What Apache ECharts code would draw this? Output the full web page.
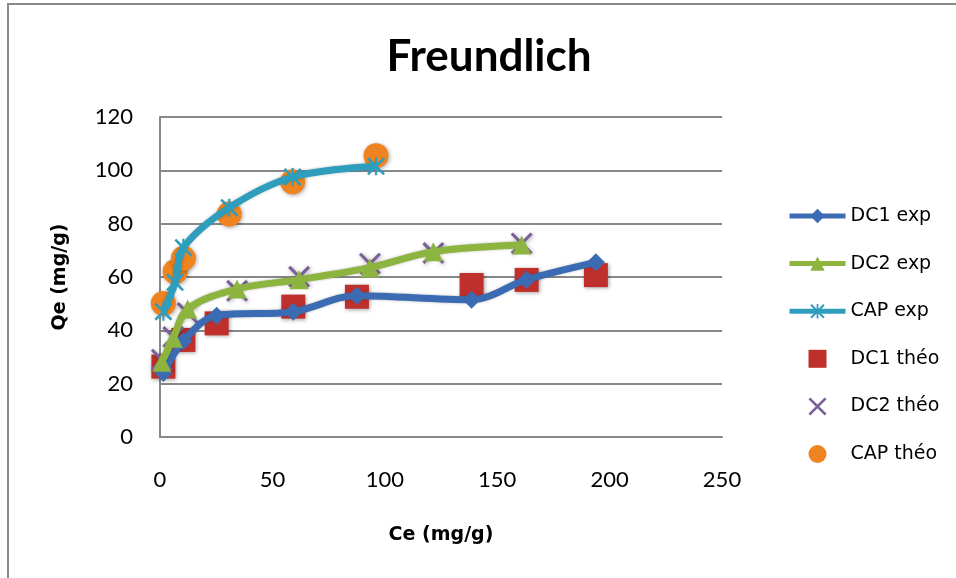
<!DOCTYPE html>
<html>
<head>
<meta charset="utf-8">
<script src="https://cdn.jsdelivr.net/npm/echarts@6/dist/echarts.min.js"></script>
<style>
  html, body { margin: 0; padding: 0; background: #fff; }
  #chart { width: 956px; height: 578px; }
</style>
</head>
<body>
<div id="chart"></div>
<script>
// Ce (mg/g) and Qe (mg/g) values for each adsorbent
const dc1Ce   = [1.5, 10.4, 25.2, 59.3, 87.6, 138.6, 163.1, 193.9];
const dc1Exp  = [24, 36, 45.5, 47, 53, 51.5, 59, 65.5];
const dc1Theo = [26.4, 36.4, 42.6, 48.9, 52.6, 57, 58.9, 60.7];

const dc2Ce   = [0.8, 5.9, 12.3, 34.3, 61.9, 93.4, 121.6, 160.9];
const dc2Exp  = [28, 37, 48, 55.5, 59, 63.5, 69.5, 72];
const dc2Theo = [29, 37.5, 46.5, 54.8, 60.1, 65, 69, 72.6];

const capCe   = [1.5, 6.7, 10.4, 30.8, 59, 96.1];
const capExp  = [47, 58, 71, 86, 97.5, 101.5];
const capTheo = [50.1, 62, 67, 83.6, 95.7, 105.5];

const seriesNames = ['DC1 exp', 'DC2 exp', 'CAP exp', 'DC1 théo', 'DC2 théo', 'CAP théo'];
const xTicks = { min: 0, max: 250, step: 50 };
const yTicks = { min: 0, max: 120, step: 20 };

const pairs = (xs, ys) => xs.map((x, i) => [x, ys[i]]);

// Marker shapes: square, thin cross and a six-armed star
const squarePath = 'path://M0,0 L10,0 L10,10 L0,10 Z';
const crossPath = 'path://M1,0 L5,4 L9,0 L10,1 L6,5 L10,9 L9,10 L5,6 L1,10 L0,9 L4,5 L0,1 Z';
const starPath = 'path://M1,0 L5,4 L9,0 L10,1 L6,5 L10,9 L9,10 L5,6 L1,10 L0,9 L4,5 L0,1 Z M4.4,0 L5.6,0 L5.6,10 L4.4,10 Z';

const FONT = 'DejaVu Sans';
const TICK_FONT = 'Lato';
const shade = { shadowBlur: 4, shadowColor: 'rgba(0,0,0,0.35)', shadowOffsetX: 1, shadowOffsetY: 1 };

function expSeries(name, data, color, symbol, size) {
  return {
    name, type: 'line', data, smooth: 0.35,
    symbol, symbolSize: size,
    lineStyle: { color, width: 7, shadowBlur: 3, shadowColor: 'rgba(0,0,0,0.25)' },
    itemStyle: { color },
    emphasis: { disabled: true }
  };
}
function theoSeries(name, data, color, symbol, size) {
  return {
    name, type: 'scatter', data, symbol, symbolSize: size,
    itemStyle: Object.assign({ color, opacity: 1 }, shade),
    emphasis: { disabled: true }
  };
}

const chart = echarts.init(document.getElementById('chart'), null, { renderer: 'canvas' });
chart.setOption({
  animation: false,
  backgroundColor: '#fff',
  textStyle: { fontFamily: FONT },
  title: {
    text: 'Freundlich',
    left: 489, top: 35, padding: 0, textAlign: 'center',
    textStyle: { fontFamily: TICK_FONT, fontSize: 44, fontWeight: 'bold', color: '#000' }
  },
  graphic: [{
    type: 'rect', silent: true, z: -1,
    shape: { x: 8, y: 4, width: 1000, height: 700 },
    style: { fill: 'none', stroke: '#8a8a8a', lineWidth: 2 }
  }],
  legend: {
    orient: 'vertical', left: 782, top: 201,
    itemWidth: 56, itemHeight: 18, itemGap: 27.6,
    data: seriesNames,
    textStyle: { fontFamily: FONT, fontSize: 19, color: '#000', lineHeight: 20 },
    lineStyle: { width: 5 }
  },
  grid: { left: 160, right: 234, top: 117, bottom: 141 },
  xAxis: {
    type: 'value', min: xTicks.min, max: xTicks.max, interval: xTicks.step,
    name: 'Ce (mg/g)', nameLocation: 'middle', nameGap: 89,
    nameTextStyle: { fontFamily: FONT, fontSize: 19, fontWeight: 'bold', color: '#000' },
    axisLine: { show: true, lineStyle: { color: '#888', width: 2 } },
    axisTick: { show: false },
    splitLine: { show: false },
    axisLabel: { fontFamily: TICK_FONT, fontSize: 22, color: '#000', margin: 32 }
  },
  yAxis: {
    type: 'value', min: yTicks.min, max: yTicks.max, interval: yTicks.step,
    name: 'Qe (mg/g)', nameLocation: 'middle', nameGap: 90, nameRotate: 90,
    nameTextStyle: { fontFamily: FONT, fontSize: 19, fontWeight: 'bold', color: '#000' },
    axisLine: { show: true, lineStyle: { color: '#888', width: 2 } },
    axisTick: { show: false },
    splitLine: { show: true, lineStyle: { color: '#888', width: 2 } },
    axisLabel: { fontFamily: TICK_FONT, fontSize: 22, color: '#000', margin: 27 }
  },
  series: [
    expSeries(seriesNames[0], pairs(dc1Ce, dc1Exp), '#3b6cb3', 'diamond', 18),
    expSeries(seriesNames[1], pairs(dc2Ce, dc2Exp), '#8cb43f', 'triangle', 19),
    expSeries(seriesNames[2], pairs(capCe, capExp), '#2f9ebd', starPath, 18),
    theoSeries(seriesNames[3], pairs(dc1Ce, dc1Theo), '#bf302d', squarePath, 24),
    theoSeries(seriesNames[4], pairs(dc2Ce, dc2Theo), '#7b5f98', crossPath, 22),
    theoSeries(seriesNames[5], pairs(capCe, capTheo), '#ef831f', 'circle', 25)
  ]
});
</script>
</body>
</html>
